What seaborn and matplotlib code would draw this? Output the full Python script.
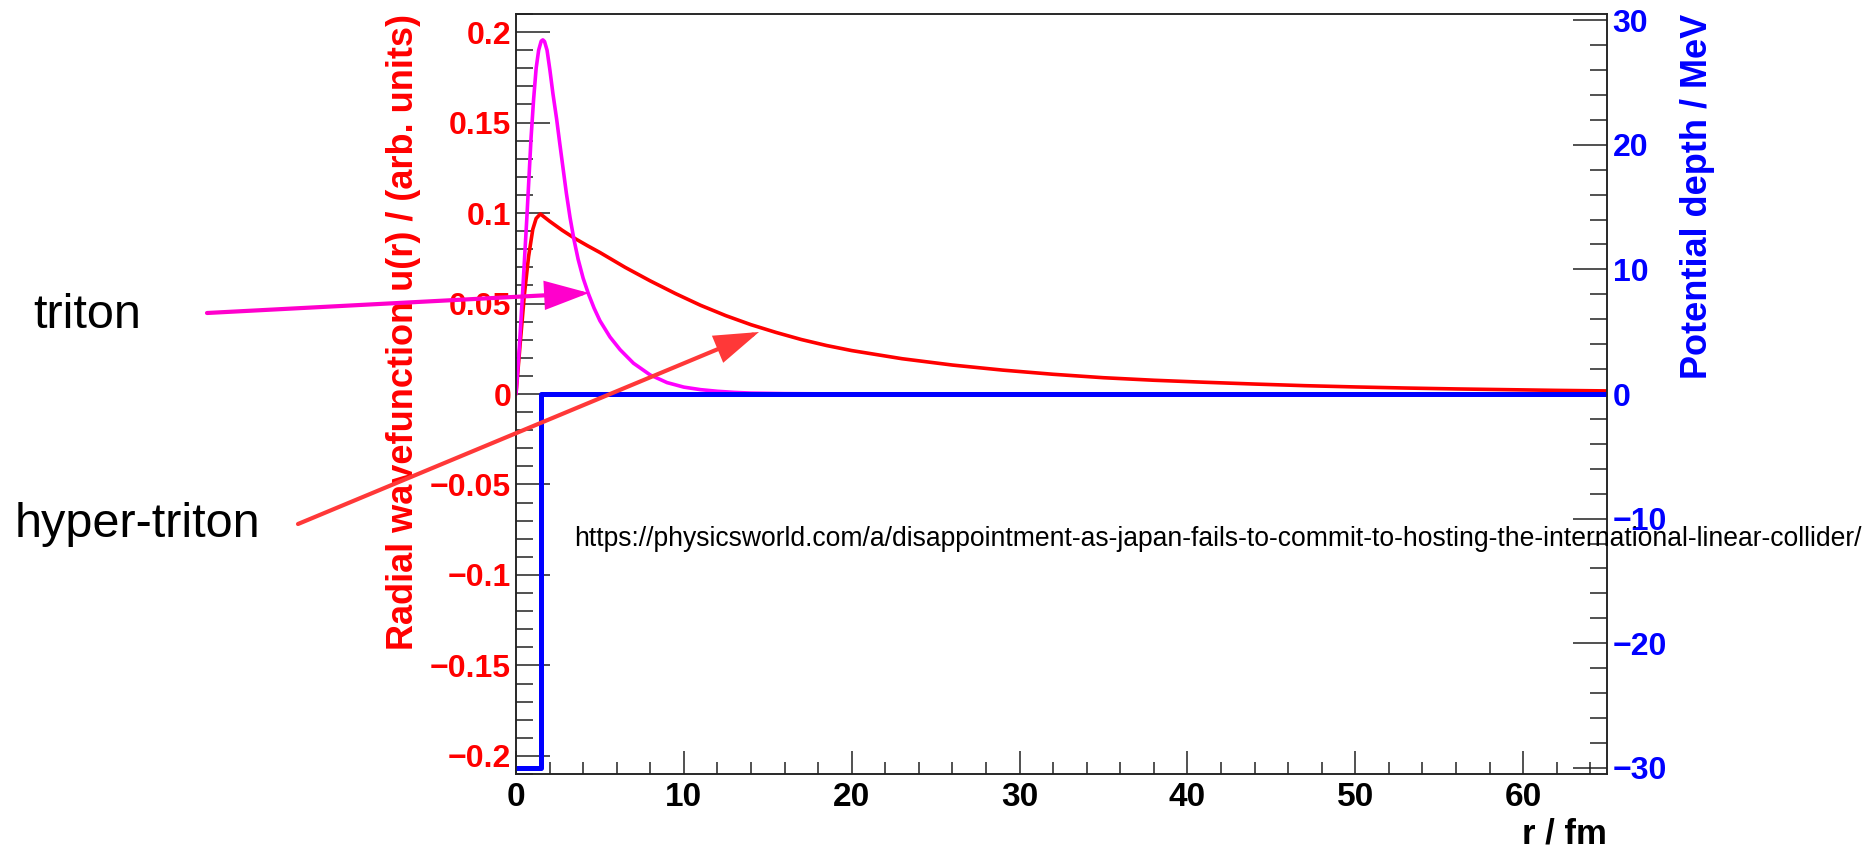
import numpy as np
import pandas as pd
import matplotlib
matplotlib.use("Agg")
import matplotlib.pyplot as plt
import seaborn as sns
from matplotlib.patches import FancyArrowPatch
from matplotlib.ticker import MultipleLocator

# ---------------- data ----------------
r_hyper = [0.0, 0.25, 0.5, 0.75, 1.0, 1.2, 1.45, 2.0, 2.75, 3.5, 4.25, 5.0, 6.5, 8.0,
           9.5, 11.0, 12.5, 14.0, 15.5, 17.0, 18.5, 20.0, 23.0, 26.0, 29.0, 32.0, 35.0,
           38.0, 41.0, 44.0, 47.0, 50.0, 53.0, 56.0, 59.0, 62.0, 65.0]
u_hyper = [0.0, 0.028, 0.055, 0.076, 0.091, 0.097, 0.0995, 0.0955, 0.0905, 0.0860,
           0.0820, 0.0782, 0.0700, 0.0625, 0.0555, 0.0490, 0.0433, 0.0383, 0.0340,
           0.0301, 0.0268, 0.0240, 0.0195, 0.0160, 0.0132, 0.0109, 0.0090, 0.0076,
           0.0065, 0.0055, 0.0046, 0.0039, 0.0033, 0.0028, 0.0024, 0.0020, 0.0017]

r_triton = [0.0, 0.2, 0.4, 0.65, 0.9, 1.05, 1.2, 1.35, 1.5, 1.6, 1.7, 1.85, 2.02, 2.2,
            2.42, 2.6, 2.8, 3.0, 3.22, 3.45, 3.7, 4.0, 4.31, 4.65, 5.0, 5.6, 6.2, 7.0,
            8.0, 9.0, 10.0, 11.0, 12.0, 13.0, 14.0, 16.0, 20.0]
u_triton = [0.0, 0.026, 0.057, 0.098, 0.142, 0.163, 0.180, 0.190, 0.1950, 0.1957,
            0.1948, 0.1900, 0.1790, 0.1660, 0.1520, 0.1390, 0.1250, 0.1110, 0.0975,
            0.0855, 0.0745, 0.0640, 0.0555, 0.0475, 0.0405, 0.0315, 0.0245, 0.0170,
            0.0105, 0.0063, 0.0038, 0.0024, 0.0015, 0.0009, 0.0005, 0.0002, 0.0]

pot_r = [0.0, 1.5, 65.0]
pot_v = [-30.0, 0.0, 0.0]

x_ticks = [0, 10, 20, 30, 40, 50, 60]
x_tick_labels = ["0", "10", "20", "30", "40", "50", "60"]
left_ticks = [-0.2, -0.15, -0.1, -0.05, 0.0, 0.05, 0.1, 0.15, 0.2]
left_tick_labels = ["\u22120.2", "\u22120.15", "\u22120.1", "\u22120.05", "0",
                    "0.05", "0.1", "0.15", "0.2"]
right_ticks = [-30, -20, -10, 0, 10, 20, 30]
right_tick_labels = ["\u221230", "\u221220", "\u221210", "0", "10", "20", "30"]

x_label = "r / fm"
left_label = "Radial wavefunction u(r) / (arb. units)"
right_label = "Potential depth / MeV"
url_text = ("https://physicsworld.com/a/disappointment-as-japan-fails-to-commit-"
            "to-hosting-the-international-linear-collider/")

# ---------------- styling ----------------
W, H = 1874, 848
sns.set_theme(style="white")
plt.rcParams["font.family"] = ["Liberation Sans", "DejaVu Sans"]

RED = "#FF0000"
MAG = "#FF00FF"
BLUE = "#0000FF"
ARROW_MAG = "#FF00CC"
ARROW_RED = "#FF3838"

fig = plt.figure(figsize=(W / 100, H / 100), dpi=100)
L, R, T, B = 516, 1607, 14, 774
ax = fig.add_axes([L / W, 1 - B / H, (R - L) / W, (B - T) / H])
ax2 = ax.twinx()

sns.lineplot(x=r_hyper, y=u_hyper, ax=ax, color=RED, linewidth=2.6,
             estimator=None, sort=False)
sns.lineplot(x=r_triton, y=u_triton, ax=ax, color=MAG, linewidth=2.6,
             estimator=None, sort=False)
sns.lineplot(x=pot_r, y=pot_v, ax=ax2, color=BLUE, linewidth=3.6,
             estimator=None, sort=False, drawstyle="steps-post")

ax.set_xlim(0, 65)
ax.set_ylim(-0.21, 0.21)
ax2.set_ylim(-30.5, 30.5)

for a in (ax, ax2):
    for s in a.spines.values():
        s.set_color("#222222")
        s.set_linewidth(1.1)

# x axis
ax.set_xticks(x_ticks, labels=x_tick_labels, fontsize=24, fontweight="bold",
              color="black")
ax.xaxis.set_minor_locator(MultipleLocator(2))
ax.tick_params(axis="x", which="both", direction="in", bottom=True, top=False,
               color="#222222", width=1.1)
ax.tick_params(axis="x", which="major", length=16.5, pad=6)
ax.tick_params(axis="x", which="minor", length=8.5)

# left y axis
ax.set_yticks(left_ticks, labels=left_tick_labels, fontsize=23, fontweight="bold",
              color=RED)
ax.yaxis.set_minor_locator(MultipleLocator(0.01))
ax.tick_params(axis="y", which="both", direction="in", left=True, right=False,
               color="#222222", width=1.1)
ax.tick_params(axis="y", which="major", length=24.5, pad=3.5)
ax.tick_params(axis="y", which="minor", length=12.2)

# right y axis
ax2.set_yticks(right_ticks, labels=right_tick_labels, fontsize=23,
               fontweight="bold", color=BLUE)
ax2.yaxis.set_minor_locator(MultipleLocator(2))
ax2.tick_params(axis="y", which="both", direction="in", left=False, right=True,
                color="#222222", width=1.1)
ax2.tick_params(axis="y", which="major", length=24.5, pad=4)
ax2.tick_params(axis="y", which="minor", length=12.2)
ax2.tick_params(axis="x", which="both", top=False, bottom=False)

ax.set_ylabel(left_label, loc="top", fontsize=26, fontweight="bold", color=RED)
ax.yaxis.set_label_coords(-0.087, 1.0)
ax2.set_ylabel(right_label, loc="top", fontsize=26, fontweight="bold", color=BLUE)
ax2.yaxis.set_label_coords(1.067, 1.0)
ax.set_xlabel(x_label, loc="right", fontsize=25, fontweight="bold", color="black")
ax.xaxis.set_label_coords(1.0, -0.057)


def fpos(x, y):
    return (x / W, 1 - y / H)


# annotations
fig.text(*fpos(33, 328), "triton", fontsize=35, color="black", va="baseline",
         ha="left")
fig.text(*fpos(15, 537), "hyper-triton", fontsize=35, color="black",
         va="baseline", ha="left")
fig.text(*fpos(574, 546), url_text, fontsize=19.1, color="black",
         va="baseline", ha="left")

for (p0, p1, col) in [((207, 313), (589, 293), ARROW_MAG),
                      ((298, 524), (759, 332), ARROW_RED)]:
    arr = FancyArrowPatch(fpos(*p0), fpos(*p1), transform=fig.transFigure,
                          arrowstyle="-|>,head_length=26,head_width=8.5",
                          mutation_scale=1, linewidth=3, color=col,
                          shrinkA=0, shrinkB=0, joinstyle="miter")
    fig.add_artist(arr)

fig.savefig("out.png", dpi=100)
